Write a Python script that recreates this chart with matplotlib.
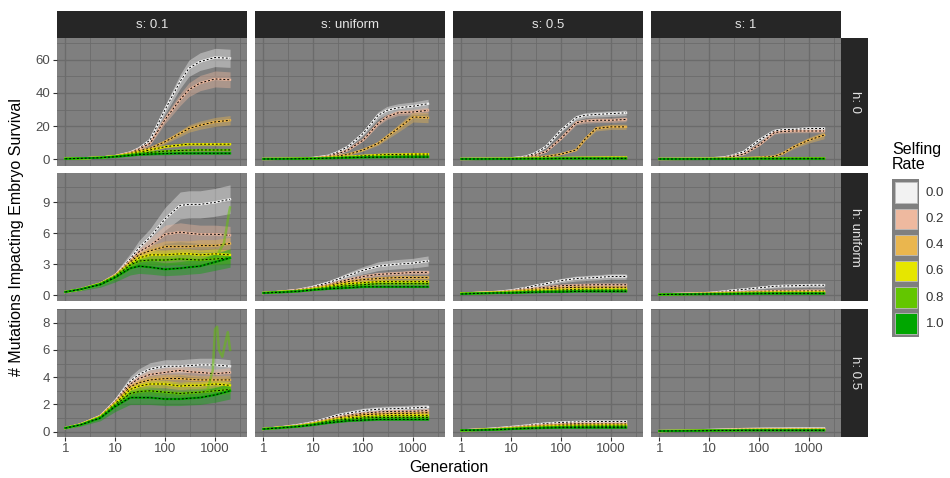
import numpy as np
import matplotlib
matplotlib.use("Agg")
import matplotlib.pyplot as plt
from matplotlib.patches import Rectangle

plt.rcParams['font.family'] = ['Liberation Sans', 'DejaVu Sans']

# Datos
generation = [1, 2, 5, 10, 20, 30, 50, 100, 200, 300, 500, 1000, 2000]
selfing_rates = ["0.0", "0.2", "0.4", "0.6", "0.8", "1.0"]
s_labels = ["s: 0.1", "s: uniform", "s: 0.5", "s: 1"]
h_labels = ["h: 0", "h: uniform", "h: 0.5"]

# h: 0
h0_s01 = [[0.2, 0.4, 0.9, 1.8, 4.0, 6.5, 11.5, 30, 47, 55, 59, 61.5, 61],
          [0.2, 0.4, 0.9, 1.8, 3.8, 6.0, 9.5, 24, 36, 42, 46, 48.5, 48],
          [0.2, 0.4, 0.9, 1.8, 3.5, 5.0, 6.5, 10.5, 15.5, 18.5, 20.5, 22.5, 23.5],
          [0.2, 0.4, 0.9, 1.7, 3.0, 4.2, 5.5, 7.5, 8.5, 9, 9, 9, 9],
          [0.2, 0.4, 0.9, 1.6, 2.6, 3.3, 4.0, 4.8, 5.2, 5.4, 5.5, 5.5, 5.5],
          [0.2, 0.4, 0.8, 1.4, 2.2, 2.7, 3.0, 3.3, 3.5, 3.5, 3.5, 3.5, 3.5]]
h0_sunif = [[0.05, 0.1, 0.3, 0.7, 2.0, 4.0, 7.5, 15.5, 26.5, 29.5, 31, 32, 33.5],
            [0.05, 0.1, 0.3, 0.6, 1.6, 3.0, 5.5, 11.5, 21.5, 25.5, 28, 28.5, 29.5],
            [0.05, 0.1, 0.3, 0.5, 1.2, 1.8, 2.8, 5.5, 9.5, 13.5, 18.5, 25.5, 25],
            [0.05, 0.1, 0.2, 0.4, 0.8, 1.1, 1.4, 2.0, 2.5, 2.7, 2.8, 3.0, 3.0],
            [0.05, 0.1, 0.2, 0.3, 0.6, 0.8, 1.0, 1.3, 1.5, 1.6, 1.7, 1.8, 1.8],
            [0.05, 0.1, 0.2, 0.3, 0.5, 0.65, 0.8, 1.0, 1.1, 1.15, 1.2, 1.2, 1.2]]
h0_s05 = [[0.05, 0.1, 0.2, 0.5, 1.5, 3.5, 7.5, 17.5, 25, 26.5, 27, 27.5, 28],
          [0.05, 0.1, 0.2, 0.4, 1.0, 2.3, 4.5, 12.5, 22, 23, 23.5, 23.5, 24],
          [0.05, 0.1, 0.2, 0.3, 0.6, 1.0, 1.5, 3.0, 5.5, 12, 18.5, 19.5, 19.5],
          [0.05, 0.1, 0.1, 0.2, 0.3, 0.4, 0.5, 0.7, 0.8, 0.85, 0.9, 1.0, 1.0],
          [0.05, 0.05, 0.1, 0.2, 0.2, 0.25, 0.3, 0.4, 0.5, 0.5, 0.5, 0.5, 0.5],
          [0.05, 0.05, 0.1, 0.1, 0.2, 0.2, 0.2, 0.3, 0.3, 0.3, 0.3, 0.3, 0.3]]
h0_s1 = [[0.05, 0.1, 0.2, 0.4, 1.0, 2.2, 4.5, 11.5, 17, 17.8, 18, 18.5, 18.5],
         [0.05, 0.1, 0.2, 0.3, 0.8, 1.6, 3.0, 8.5, 16, 16.7, 17, 17, 17],
         [0.05, 0.1, 0.1, 0.2, 0.3, 0.45, 0.6, 1.0, 1.5, 3.5, 7.5, 11.5, 14.5],
         [0.05, 0.05, 0.1, 0.1, 0.2, 0.25, 0.3, 0.4, 0.5, 0.5, 0.5, 0.5, 0.5],
         [0.05, 0.05, 0.1, 0.1, 0.1, 0.15, 0.2, 0.3, 0.3, 0.3, 0.3, 0.3, 0.3],
         [0.05, 0.05, 0.05, 0.1, 0.1, 0.1, 0.1, 0.2, 0.2, 0.2, 0.2, 0.2, 0.2]]

# h: uniform
hunif_s01 = [[0.3, 0.55, 1.1, 1.9, 3.5, 4.6, 5.6, 7.4, 8.7, 8.8, 8.8, 9.0, 9.3],
             [0.3, 0.55, 1.1, 1.9, 3.3, 4.2, 4.8, 5.9, 6.1, 6.0, 5.9, 5.9, 5.8],
             [0.3, 0.55, 1.1, 1.9, 3.2, 3.9, 4.3, 4.7, 4.7, 4.7, 4.8, 4.8, 5.0],
             [0.3, 0.55, 1.1, 1.8, 3.0, 3.6, 3.9, 3.9, 4.0, 4.0, 3.9, 4.0, 3.9],
             [0.3, 0.55, 1.1, 1.8, 2.9, 3.3, 3.4, 3.4, 3.5, 3.45, 3.4, 3.5, 3.6],
             [0.3, 0.55, 1.0, 1.7, 2.6, 2.8, 2.7, 2.5, 2.6, 2.7, 2.8, 3.2, 3.6]]
hunif_sunif = [[0.2, 0.3, 0.5, 0.8, 1.2, 1.5, 1.9, 2.4, 2.8, 2.9, 3.0, 3.1, 3.3],
               [0.2, 0.3, 0.5, 0.7, 1.0, 1.25, 1.5, 1.8, 2.0, 2.05, 2.1, 2.2, 2.2],
               [0.2, 0.3, 0.4, 0.6, 0.9, 1.1, 1.3, 1.5, 1.6, 1.65, 1.7, 1.7, 1.7],
               [0.2, 0.3, 0.4, 0.6, 0.8, 0.95, 1.1, 1.2, 1.3, 1.3, 1.3, 1.3, 1.3],
               [0.2, 0.3, 0.4, 0.5, 0.7, 0.8, 0.9, 1.0, 1.1, 1.1, 1.1, 1.1, 1.1],
               [0.2, 0.25, 0.35, 0.5, 0.6, 0.65, 0.7, 0.8, 0.8, 0.8, 0.8, 0.8, 0.8]]
hunif_s05 = [[0.15, 0.2, 0.3, 0.45, 0.7, 0.9, 1.1, 1.4, 1.6, 1.65, 1.7, 1.8, 1.8],
             [0.15, 0.2, 0.3, 0.4, 0.55, 0.65, 0.75, 0.9, 0.95, 0.98, 1.0, 1.0, 1.0],
             [0.15, 0.2, 0.25, 0.35, 0.45, 0.52, 0.6, 0.7, 0.75, 0.75, 0.75, 0.75, 0.75],
             [0.15, 0.2, 0.25, 0.3, 0.4, 0.42, 0.45, 0.5, 0.55, 0.55, 0.55, 0.55, 0.55],
             [0.15, 0.15, 0.2, 0.25, 0.3, 0.32, 0.35, 0.4, 0.4, 0.42, 0.45, 0.45, 0.45],
             [0.1, 0.15, 0.2, 0.2, 0.25, 0.27, 0.3, 0.3, 0.35, 0.35, 0.35, 0.35, 0.35]]
hunif_s1 = [[0.05, 0.1, 0.15, 0.2, 0.35, 0.45, 0.55, 0.7, 0.85, 0.88, 0.9, 0.95, 0.95],
            [0.05, 0.1, 0.15, 0.2, 0.25, 0.28, 0.3, 0.35, 0.4, 0.4, 0.4, 0.42, 0.42],
            [0.05, 0.1, 0.12, 0.15, 0.2, 0.22, 0.25, 0.3, 0.3, 0.31, 0.32, 0.32, 0.32],
            [0.05, 0.08, 0.1, 0.12, 0.15, 0.17, 0.2, 0.22, 0.24, 0.25, 0.25, 0.25, 0.25],
            [0.05, 0.07, 0.1, 0.1, 0.12, 0.13, 0.15, 0.17, 0.18, 0.18, 0.18, 0.18, 0.18],
            [0.05, 0.06, 0.08, 0.1, 0.1, 0.11, 0.12, 0.13, 0.14, 0.14, 0.14, 0.14, 0.14]]

# h: 0.5
h05_s01 = [[0.27, 0.53, 1.15, 2.25, 3.7, 4.2, 4.6, 4.8, 4.8, 4.85, 4.9, 4.9, 4.8],
           [0.27, 0.53, 1.15, 2.2, 3.5, 3.9, 4.2, 4.35, 4.5, 4.4, 4.35, 4.25, 4.35],
           [0.27, 0.53, 1.1, 2.1, 3.3, 3.6, 3.8, 3.9, 3.9, 3.85, 3.8, 3.8, 3.8],
           [0.27, 0.53, 1.1, 2.05, 3.1, 3.35, 3.5, 3.5, 3.35, 3.4, 3.4, 3.5, 3.4],
           [0.27, 0.5, 1.05, 1.95, 2.8, 2.95, 3.0, 2.9, 2.8, 2.85, 2.9, 3.0, 3.1],
           [0.27, 0.5, 1.0, 1.85, 2.5, 2.5, 2.5, 2.4, 2.4, 2.45, 2.5, 2.7, 3.0]]
h05_sunif = [[0.2, 0.3, 0.5, 0.7, 1.0, 1.2, 1.35, 1.55, 1.65, 1.68, 1.7, 1.75, 1.8],
             [0.2, 0.3, 0.45, 0.65, 0.9, 1.05, 1.2, 1.35, 1.45, 1.48, 1.5, 1.5, 1.55],
             [0.2, 0.3, 0.45, 0.6, 0.85, 1.0, 1.1, 1.25, 1.3, 1.32, 1.35, 1.35, 1.4],
             [0.2, 0.3, 0.4, 0.6, 0.8, 0.9, 1.0, 1.1, 1.15, 1.18, 1.2, 1.2, 1.2],
             [0.2, 0.28, 0.4, 0.55, 0.75, 0.85, 0.9, 1.0, 1.05, 1.05, 1.05, 1.05, 1.05],
             [0.2, 0.27, 0.38, 0.5, 0.65, 0.72, 0.8, 0.85, 0.9, 0.9, 0.9, 0.9, 0.9]]
h05_s05 = [[0.1, 0.15, 0.25, 0.35, 0.45, 0.53, 0.6, 0.68, 0.72, 0.74, 0.75, 0.75, 0.75],
           [0.1, 0.15, 0.22, 0.3, 0.4, 0.45, 0.5, 0.55, 0.6, 0.6, 0.6, 0.6, 0.6],
           [0.1, 0.14, 0.2, 0.28, 0.35, 0.4, 0.45, 0.5, 0.5, 0.51, 0.52, 0.52, 0.52],
           [0.1, 0.13, 0.18, 0.25, 0.3, 0.34, 0.38, 0.42, 0.43, 0.44, 0.45, 0.45, 0.45],
           [0.1, 0.12, 0.16, 0.22, 0.27, 0.3, 0.33, 0.35, 0.37, 0.37, 0.38, 0.38, 0.38],
           [0.1, 0.12, 0.15, 0.2, 0.24, 0.26, 0.28, 0.3, 0.3, 0.3, 0.3, 0.3, 0.3]]
h05_s1 = [[0.05, 0.07, 0.1, 0.13, 0.16, 0.18, 0.2, 0.22, 0.23, 0.23, 0.24, 0.24, 0.24],
          [0.05, 0.07, 0.09, 0.12, 0.14, 0.16, 0.17, 0.18, 0.19, 0.19, 0.19, 0.19, 0.19],
          [0.05, 0.06, 0.08, 0.11, 0.13, 0.14, 0.15, 0.16, 0.16, 0.16, 0.17, 0.17, 0.17],
          [0.05, 0.06, 0.08, 0.1, 0.12, 0.12, 0.13, 0.14, 0.14, 0.14, 0.14, 0.14, 0.14],
          [0.05, 0.06, 0.07, 0.09, 0.1, 0.1, 0.11, 0.12, 0.12, 0.12, 0.12, 0.12, 0.12],
          [0.05, 0.06, 0.07, 0.08, 0.09, 0.09, 0.1, 0.1, 0.1, 0.1, 0.1, 0.1, 0.1]]

# replicas atipicas (tasa 0.8) visibles al final
outlier_hunif_gen = [1200, 1500, 1700, 1900, 2000]
outlier_hunif_val = [4.2, 5.0, 6.5, 8.0, 8.5]
outlier_h05_gen = [700, 900, 1000, 1100, 1200, 1400, 1600, 1800, 2000]
outlier_h05_val = [3.0, 4.5, 7.5, 7.7, 6.0, 5.5, 6.5, 7.3, 6.0]

# dispersion relativa de las replicas (semi-ancho / media), por tasa de autofecundacion
spread_h0 = [[0.09, 0.1, 0.12, 0.1, 0.15, 0.2],
             [0.08, 0.06, 0.12, 0.2, 0.2, 0.2],
             [0.06, 0.06, 0.08, 0.2, 0.2, 0.2],
             [0.06, 0.06, 0.15, 0.2, 0.2, 0.2]]
spread_hunif = [[0.15, 0.15, 0.12, 0.12, 0.15, 0.25],
                [0.15, 0.1, 0.1, 0.1, 0.1, 0.1],
                [0.15, 0.1, 0.1, 0.1, 0.1, 0.1],
                [0.2, 0.1, 0.1, 0.1, 0.1, 0.1]]
spread_h05 = [[0.1, 0.08, 0.08, 0.08, 0.1, 0.2],
              [0.12, 0.08, 0.08, 0.08, 0.08, 0.08],
              [0.1, 0.1, 0.1, 0.1, 0.1, 0.1],
              [0.1, 0.1, 0.1, 0.1, 0.1, 0.1]]

paneles = [[h0_s01, h0_sunif, h0_s05, h0_s1],
           [hunif_s01, hunif_sunif, hunif_s05, hunif_s1],
           [h05_s01, h05_sunif, h05_s05, h05_s1]]
spreads = [spread_h0, spread_hunif, spread_h05]

colores = ["#F2F2F2", "#EEB99F", "#EAB64E", "#E6E600", "#63C600", "#00A600"]
y_ticks = [[0, 20, 40, 60], [0, 3, 6, 9], [0, 2, 4, 6, 8]]
y_lims = [(-3.9, 73.3), (-0.58, 11.8), (-0.35, 8.1)]

W, H = 950, 478
fig = plt.figure(figsize=(W / 100, H / 100), dpi=100)

def rect(x0, y0, w, h):
    # pixeles (origen arriba-izquierda) -> fraccion de figura
    return [x0 / W, 1 - (y0 + h) / H, w / W, h / H]

col_x = [57, 255, 453, 651]
row_y = [38, 173.5, 309]
pw, ph = 190, 127.5
g = np.array(generation)
xlim = (10 ** -0.166, 10 ** 3.64)
axes = {}

for r in range(3):
    for c in range(4):
        ax = fig.add_axes(rect(col_x[c], row_y[r], pw, ph))
        axes[(r, c)] = ax
        ax.set_facecolor("#7F7F7F")
        for i, vals in enumerate(paneles[r][c]):
            m = np.array(vals)
            sp = spreads[r][c][i]
            ax.fill_between(g, m * (1 - sp), m * (1 + sp), color=colores[i], alpha=0.4, lw=0)
            ax.plot(g, m, color=colores[i], lw=1.6)
            ax.plot(g, m, color="black", lw=0.7, ls=(0, (2, 2)))
        ax.set_xscale("log")
        ax.set_xlim(xlim)
        ax.set_ylim(y_lims[r])
        ax.set_xticks([1, 10, 100, 1000])
        ax.set_xticks([10 ** 0.5, 10 ** 1.5, 10 ** 2.5, 10 ** 3.5], minor=True)
        yt = y_ticks[r]
        ax.set_yticks(yt)
        paso = yt[1] - yt[0]
        ax.set_yticks([v + paso / 2 for v in yt], minor=True)
        ax.grid(which="major", color="#6B6B6B", lw=1.0)
        ax.grid(which="minor", color="#6B6B6B", lw=0.6)
        ax.set_axisbelow(True)
        for s in ax.spines.values():
            s.set_visible(False)
        ax.tick_params(which="minor", length=0)
        ax.tick_params(which="major", length=3, color="#333333", labelsize=9.5,
                       labelcolor="#4D4D4D", pad=2)
        if r == 2:
            ax.set_xticklabels(["1", "10", "100", "1000"])
        else:
            ax.tick_params(axis="x", which="major", length=0, labelbottom=False)
        if c == 0:
            ax.set_yticklabels([str(v) for v in yt])
        else:
            ax.tick_params(axis="y", which="major", length=0, labelleft=False)

axes[(1, 0)].plot(outlier_hunif_gen, outlier_hunif_val, color=colores[4], alpha=0.5, lw=1.8)
axes[(2, 0)].plot(outlier_h05_gen, outlier_h05_val, color=colores[4], alpha=0.5, lw=1.8)

# tiras superiores
for c in range(4):
    sx = fig.add_axes(rect(col_x[c], 11, pw, 27))
    sx.set_facecolor("#262626")
    sx.set_xticks([]); sx.set_yticks([])
    for s in sx.spines.values():
        s.set_visible(False)
    sx.text(0.5, 0.5, s_labels[c], color="#E5E5E5", fontsize=9.5,
            ha="center", va="center", transform=sx.transAxes)

# tiras derechas
for r in range(3):
    sy = fig.add_axes(rect(841, row_y[r], 27, ph))
    sy.set_facecolor("#262626")
    sy.set_xticks([]); sy.set_yticks([])
    for s in sy.spines.values():
        s.set_visible(False)
    sy.text(0.5, 0.5, h_labels[r], color="#E5E5E5", fontsize=9.5, rotation=-90,
            ha="center", va="center", transform=sy.transAxes)

fig.text(449 / W, 1 - 467 / H, "Generation", ha="center", va="center", fontsize=11.5, color="black")
fig.text(17 / W, 1 - 237 / H, "# Mutations Impacting Embryo Survival", ha="center", va="center",
         rotation=90, fontsize=11.5, color="black")

# leyenda
fig.text(892 / W, 1 - 157 / H, "Selfing\nRate", ha="left", va="center", fontsize=11.5,
         linespacing=1.0)
lg = fig.add_axes(rect(891.7, 179.3, 27.3, 157.7))
lg.set_facecolor("#7F7F7F")
lg.set_xlim(0, 27.3)
lg.set_ylim(157.7, 0)
lg.set_xticks([]); lg.set_yticks([])
for s in lg.spines.values():
    s.set_visible(False)
for i, lab in enumerate(selfing_rates):
    y0 = 3 + i * 26.2
    lg.add_patch(Rectangle((3.3, y0), 21.5, 20.5, facecolor=colores[i],
                           edgecolor="#BDBDBD", lw=0.6, alpha=1))
    fig.text(926 / W, 1 - (179.3 + y0 + 10.5) / H, lab, ha="left", va="center",
             fontsize=9.5, color="#333333")

fig.savefig("out.png", dpi=100)
